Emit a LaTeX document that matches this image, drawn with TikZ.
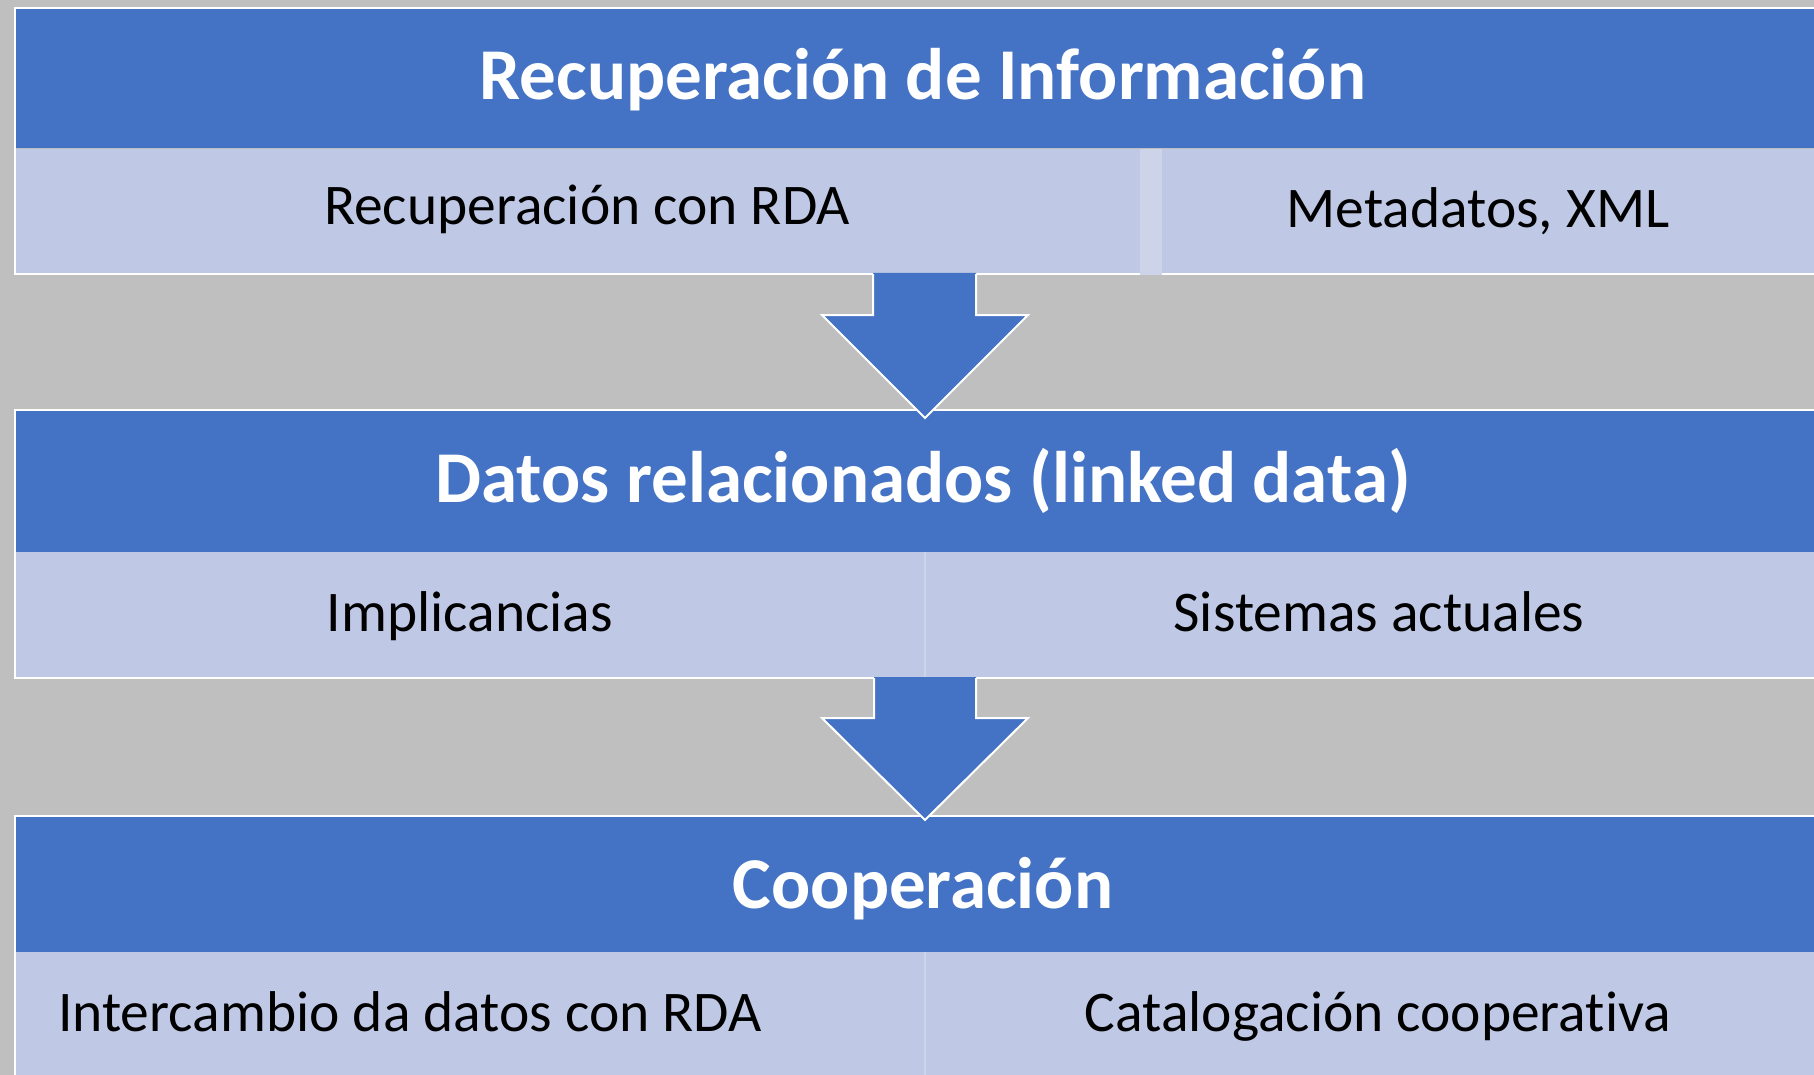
\documentclass[tikz,border=0pt]{standalone}
\usepackage{fontspec}
\setmainfont{Carlito}[Ligatures=CommonOff]
\definecolor{bg}{HTML}{BFBFBF}
\definecolor{hblue}{HTML}{4472C4}
\definecolor{lblue}{HTML}{BFC9E5}
\definecolor{sepc}{HTML}{CDD4EA}
\begin{document}
\begin{tikzpicture}[x=1pt,y=-1pt,
  header/.style={rectangle, fill=hblue, inner sep=0pt, minimum width=1814pt},
  htext/.style={text=white, inner sep=0pt, anchor=base, font=\fontsize{73}{80}\selectfont\bfseries},
  cell/.style={rectangle, fill=lblue, inner sep=0pt, minimum height=125pt},
  ctext/.style={text=black, inner sep=0pt, anchor=base, font=\fontsize{57.5}{62}\selectfont},
  frame/.style={draw=white, line width=2pt},
  blockarrow/.style={fill=hblue},
  arrowedge/.style={draw=white, line width=2pt}
]
\fill[bg] (0,0) rectangle (1814,1075);
\useasboundingbox (0,0) rectangle (1814,1075);

% Block 1
\draw[frame] (15,8) rectangle (1840,274);
\node[header, minimum height=139pt] (h1) at (923,78.5) {};
\node[cell, minimum width=1124pt, minimum height=124pt] (c1a) at (578,211) {};
\fill[sepc] (1140,149) rectangle (1162,275);
\node[cell, minimum width=668pt, minimum height=124pt] (c1b) at (1496,211) {};
\node[htext] (t1) at (923,100) {Recuperación de Información};
\node[ctext] (t1a) at (587,225) {Recuperación con RDA};
\node[ctext] (t1b) at (1478,228) {Metadatos, XML};

% Block 2
\draw[frame] (15,410) rectangle (1840,678);
\node[header, minimum height=141pt] (h2) at (923,481.5) {};
\node[cell, minimum width=909pt] (c2a) at (470.5,614.5) {};
\node[cell, minimum width=905pt] (c2b) at (1377.5,614.5) {};
\draw[sepc, line width=2pt] (c2a.north east) -- (c2a.south east);
\node[htext] (t2) at (923,502) {Datos relacionados (linked data)};
\node[ctext] (t2a) at (470,631) {Implicancias};
\node[ctext] (t2b) at (1379,631) {Sistemas actuales};

% Block 3
\draw[frame] (15,816) rectangle (1840,1090);
\node[header, minimum height=135pt] (h3) at (923,884.5) {};
\node[cell, minimum width=909pt] (c3a) at (470.5,1014.5) {};
\node[cell, minimum width=905pt] (c3b) at (1377.5,1014.5) {};
\draw[sepc, line width=2pt] (c3a.north east) -- (c3a.south east);
\node[htext] (t3) at (923,908) {Cooperación};
\node[ctext, anchor=base west] (t3a) at (58,1031) {Intercambio da datos con RDA};
\node[ctext] (t3b) at (1378,1031) {Catalogación cooperativa};

% Arrow 1
\fill[blockarrow] (873,273) -- (873,315) -- (822,315) -- (925,418) -- (1028,315) -- (976,315) -- (976,273) -- cycle;
\draw[arrowedge] (873,274) -- (873,315) -- (822,315) -- (925,418) -- (1028,315) -- (976,315) -- (976,274);

% Arrow 2
\fill[blockarrow] (874,677) -- (874,718) -- (822,718) -- (925,820) -- (1028,718) -- (976,718) -- (976,677) -- cycle;
\draw[arrowedge] (874,678) -- (874,718) -- (822,718) -- (925,820) -- (1028,718) -- (976,718) -- (976,678);
\end{tikzpicture}
\end{document}
